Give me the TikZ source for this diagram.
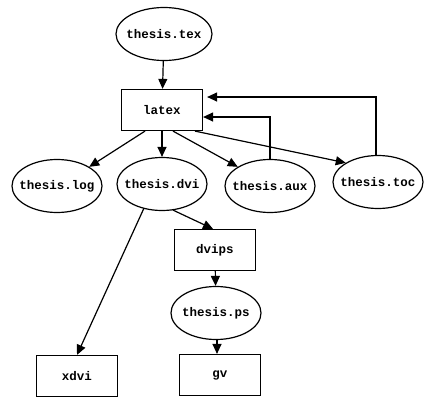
\documentclass[tikz,border=0pt]{standalone}
\usepackage{fontspec}
\setmonofont{Liberation Mono}
\usetikzlibrary{shapes.geometric,arrows.meta}
\begin{document}
\begin{tikzpicture}[x=1pt,y=-1pt,
  every node/.style={font=\ttfamily\bfseries\fontsize{12.5}{14}\selectfont, draw, line width=1.2pt, inner sep=0pt},
  file/.style={ellipse, inner xsep=-12pt, minimum width=90pt, minimum height=53pt},
  prog/.style={rectangle, minimum width=81pt, minimum height=41pt},
  conn/.style={line width=1.2pt, -{Triangle[length=10pt,width=9pt]}}]
\useasboundingbox (0,0) rectangle (424,399);
\node[file, minimum width=96pt] (tex) at (164,34) {thesis.tex};
\node[prog] (latex) at (162,110) {latex};
\node[file] (log) at (57,186) {thesis.log};
\node[file] (dvi) at (162,184) {thesis.dvi};
\node[file] (aux) at (270,186) {thesis.aux};
\node[file] (toc) at (378,182) {thesis.toc};
\node[prog] (dvips) at (215,250) {dvips};
\node[file] (ps) at (216,313) {thesis.ps};
\node[prog] (xdvi) at (77,376) {xdvi};
\node[prog] (gv) at (220,375) {gv};
\draw[conn] (tex) -- (latex);
\draw[conn] ([xshift=-17pt]latex.south) -- (log.north east);
\draw[conn] (latex) -- (dvi);
\draw[conn] ([xshift=11pt]latex.south) -- (aux.north west);
\draw[conn] ([xshift=33pt]latex.south) -- (toc.north west);
\draw[conn] (aux.north) |- ([yshift=-7pt]latex.east);
\draw[conn] ([xshift=-2pt]toc.north) |- ([xshift=4pt,yshift=13pt]latex.east);
\draw[conn] ([xshift=11pt,yshift=1pt]dvi.south) -- ([xshift=-2pt]dvips.north);
\draw[conn] ([xshift=-18pt,yshift=3pt]dvi.south) -- (xdvi.north);
\draw[conn] (dvips) -- (ps);
\draw[conn] ([xshift=1pt]ps.south) -- ([xshift=-3pt]gv.north);
\end{tikzpicture}
\end{document}
